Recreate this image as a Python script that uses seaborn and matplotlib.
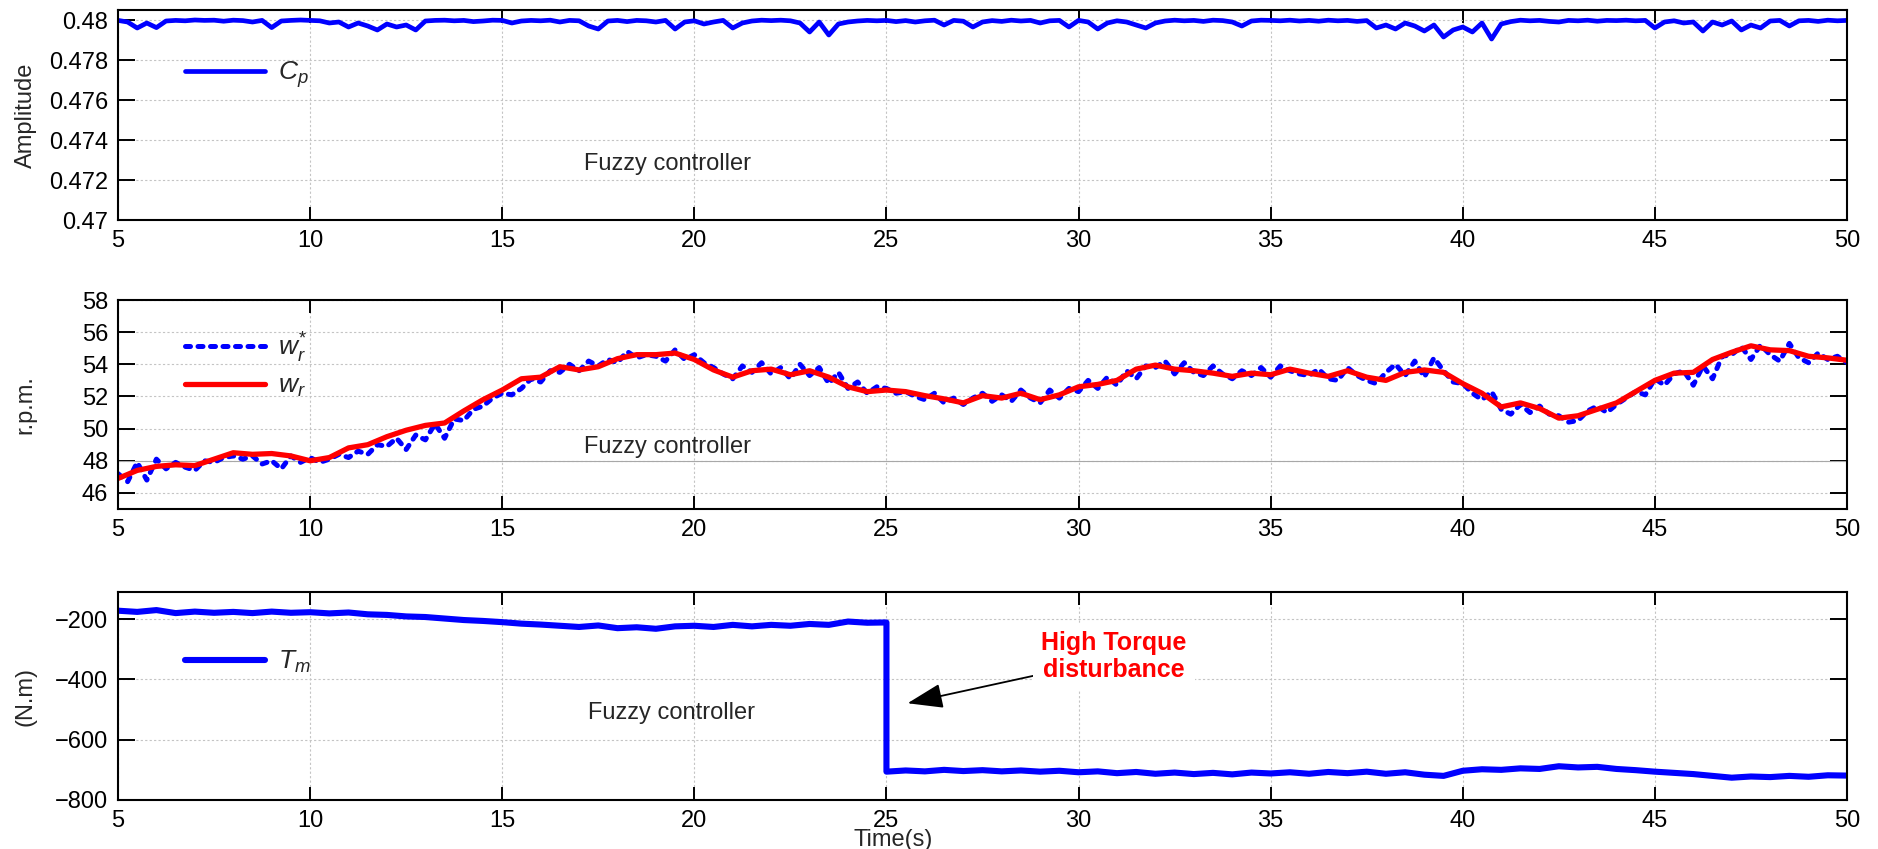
import numpy as np
import pandas as pd
import matplotlib
matplotlib.use("Agg")
import matplotlib.pyplot as plt
import seaborn as sns

# ---------------- data ----------------
T_START, T_END = 5, 50

# Power coefficient Cp, every 0.25 s
cp_vals = [
    0.47998, 0.47990, 0.47960, 0.47985, 0.47962, 0.47995, 0.47998, 0.47996,
    0.48000, 0.47998, 0.47999, 0.47994, 0.47999, 0.47997, 0.47990, 0.47998,
    0.47962, 0.47995, 0.47998, 0.48000, 0.47998, 0.47996, 0.47985, 0.47990,
    0.47965, 0.47985, 0.47970, 0.47950, 0.47980, 0.47965, 0.47975, 0.47950,
    0.47995, 0.47998, 0.47999, 0.47996, 0.47998, 0.47992, 0.47995, 0.47999,
    0.47998, 0.47985, 0.47995, 0.47998, 0.47996, 0.47999, 0.47990, 0.47998,
    0.47996, 0.47970, 0.47955, 0.47995, 0.47998, 0.47992, 0.47998, 0.47996,
    0.47990, 0.47998, 0.47955, 0.47990, 0.47996, 0.47980, 0.47990, 0.47998,
    0.47960, 0.47985, 0.47995, 0.47999, 0.47997, 0.47999, 0.47996, 0.47985,
    0.47940, 0.47990, 0.47925, 0.47980, 0.47990, 0.47995, 0.47998, 0.47996,
    0.47998, 0.47992, 0.47997, 0.47990, 0.47996, 0.47999, 0.47975, 0.47998,
    0.47994, 0.47965, 0.47990, 0.47997, 0.47993, 0.47999, 0.47995, 0.47998,
    0.47985, 0.47996, 0.47998, 0.47965, 0.47998, 0.47990, 0.47955, 0.47985,
    0.47996, 0.47990, 0.47975, 0.47960, 0.47985, 0.47995, 0.47999, 0.47996,
    0.47998, 0.47993, 0.47999, 0.47997, 0.47990, 0.47970, 0.47995, 0.47999,
    0.47998, 0.47996, 0.47999, 0.47995, 0.47998, 0.47994, 0.47999, 0.47996,
    0.47998, 0.47993, 0.47997, 0.47960, 0.47975, 0.47955, 0.47985, 0.47970,
    0.47945, 0.47975, 0.47915, 0.47950, 0.47965, 0.47940, 0.47985, 0.47905,
    0.47980, 0.47992, 0.47999, 0.47996, 0.47998, 0.47993, 0.47990, 0.47998,
    0.47996, 0.47999, 0.47994, 0.47998, 0.47997, 0.47999, 0.47996, 0.47998,
    0.47960, 0.47990, 0.47996, 0.47985, 0.47990, 0.47945, 0.47990, 0.47975,
    0.47995, 0.47950, 0.47975, 0.47960, 0.47995, 0.47998, 0.47970, 0.47996,
    0.47998, 0.47993, 0.47999, 0.47996, 0.47998,
]

# Reference speed w*_r, every 0.25 s
w_ref = [
    47.2, 46.7, 47.9, 46.8, 48.1, 47.5, 47.9, 47.6,
    47.4, 48.0, 47.9, 48.2, 48.3, 48.1, 48.3, 47.8,
    48.0, 47.5, 48.3, 47.9, 48.2, 47.9, 48.1, 48.4,
    48.2, 48.6, 48.4, 49.0, 48.9, 49.4, 48.7, 49.6,
    49.3, 50.3, 49.4, 50.6, 50.5, 51.2, 51.4, 51.9,
    52.2, 52.1, 52.5, 53.1, 52.9, 53.6, 53.5, 54.0,
    53.6, 54.2, 53.9, 54.3, 54.1, 54.8, 54.4, 54.6,
    54.5, 54.2, 54.9, 54.3, 54.6, 54.1, 53.8, 53.4,
    53.1, 53.9, 53.5, 54.1, 53.4, 53.8, 53.1, 54.0,
    53.3, 53.8, 52.8, 53.5, 52.5, 52.9, 52.2, 52.6,
    52.5, 52.2, 52.3, 52.0, 51.8, 52.2, 51.6, 51.9,
    51.5, 51.9, 52.2, 51.7, 52.1, 51.7, 52.4, 51.9,
    51.6, 52.4, 51.9, 52.5, 52.3, 53.0, 52.5, 53.2,
    52.7, 53.6, 53.1, 53.9, 53.8, 54.2, 53.4, 54.1,
    53.5, 53.3, 53.9, 53.4, 53.1, 53.6, 53.3, 53.8,
    53.2, 53.9, 53.6, 53.4, 53.3, 53.7, 53.1, 53.0,
    53.8, 53.3, 53.0, 52.8, 53.5, 54.0, 53.3, 54.2,
    53.2, 54.4, 53.6, 52.9, 52.8, 52.2, 51.8, 52.3,
    51.2, 50.9, 51.5, 51.0, 51.4, 50.9, 50.8, 50.4,
    50.5, 51.1, 51.4, 51.0, 51.5, 51.9, 52.3, 52.1,
    53.1, 52.7, 53.4, 53.6, 52.7, 53.9, 53.1, 54.5,
    54.6, 55.1, 54.3, 55.2, 54.6, 54.2, 55.3, 54.4,
    54.1, 54.7, 54.3, 54.5, 54.1,
]

# Rotor speed w_r, every 0.5 s
w_rot = [
    46.9, 47.4, 47.65, 47.75, 47.7, 48.1, 48.5, 48.4, 48.45, 48.3,
    48.0, 48.2, 48.8, 49.0, 49.5, 49.9, 50.2, 50.35, 51.1, 51.8,
    52.4, 53.1, 53.2, 53.85, 53.65, 53.85, 54.35, 54.6, 54.6, 54.7,
    54.3, 53.65, 53.2, 53.6, 53.7, 53.35, 53.6, 53.2, 52.6, 52.3,
    52.4, 52.3, 52.05, 51.85, 51.6, 52.05, 51.9, 52.2, 51.8, 52.1,
    52.6, 52.75, 53.0, 53.7, 53.95, 53.7, 53.6, 53.45, 53.25, 53.45,
    53.35, 53.7, 53.45, 53.25, 53.6, 53.2, 53.0, 53.5, 53.65, 53.5,
    52.8, 52.2, 51.35, 51.6, 51.25, 50.65, 50.8, 51.2, 51.6, 52.3,
    53.0, 53.45, 53.5, 54.3, 54.75, 55.15, 54.9, 54.85, 54.5, 54.4,
    54.25,
]

# Mechanical torque, every 0.5 s: before the disturbance (5..25 s) and after (25..50 s)
tm_before = [
    -172, -176, -170, -180, -175, -179, -176, -180, -175, -179,
    -177, -181, -178, -184, -186, -191, -193, -198, -203, -206,
    -210, -215, -218, -222, -226, -221, -230, -227, -232, -224,
    -222, -226, -219, -224, -219, -222, -216, -219, -208, -212,
    -211,
]
tm_after = [
    -706, -702, -705, -700, -704, -701, -705, -702, -706, -703,
    -708, -705, -711, -707, -713, -709, -714, -710, -715, -709,
    -712, -708, -713, -707, -711, -706, -713, -708, -716, -720,
    -703, -698, -700, -695, -697, -688, -692, -690, -697, -701,
    -706, -710, -714, -720, -726, -722, -724, -720, -723, -718,
    -719,
]
T_STEP = 25

x_ticks = [5, 10, 15, 20, 25, 30, 35, 40, 45, 50]
cp_ticks = [0.47, 0.472, 0.474, 0.476, 0.478, 0.48]
cp_ticklabels = ["0.47", "0.472", "0.474", "0.476", "0.478", "0.48"]
w_ticks = [46, 48, 50, 52, 54, 56, 58]
tm_ticks = [-800, -600, -400, -200]

# ---------------- build frames ----------------
t_q = np.linspace(T_START, T_END, len(cp_vals))
t_h = np.linspace(T_START, T_END, len(w_rot))
df_cp = pd.DataFrame({"t": t_q, "v": cp_vals})
df_wref = pd.DataFrame({"t": np.linspace(T_START, T_END, len(w_ref)), "v": w_ref})
df_wrot = pd.DataFrame({"t": t_h, "v": w_rot})
df_tm = pd.DataFrame({
    "t": np.concatenate([np.linspace(T_START, T_STEP, len(tm_before)),
                         np.linspace(T_STEP, T_END, len(tm_after))]),
    "v": tm_before + tm_after,
})

# ---------------- style ----------------
sns.set_style("ticks")
plt.rcParams["font.family"] = ["Liberation Sans", "DejaVu Sans"]
plt.rcParams["mathtext.fontset"] = "custom"
plt.rcParams["mathtext.it"] = "Liberation Sans:italic"
plt.rcParams["mathtext.rm"] = "Liberation Sans"

BLUE = "#0000ff"
RED = "#ff0000"
FS = 17

fig = plt.figure(figsize=(18.78, 8.49), dpi=100)
L, W = 118 / 1878, 1729 / 1878
ax1 = fig.add_axes([L, 1 - 220 / 849, W, 210 / 849])
ax2 = fig.add_axes([L, 1 - 509 / 849, W, 209 / 849])
ax3 = fig.add_axes([L, 1 - 800 / 849, W, 208 / 849])


def style(ax, ylim, yticks, ylabel, yticklabels=None):
    ax.set_xlim(T_START, T_END)
    ax.set_xticks(x_ticks)
    ax.set_ylim(*ylim)
    ax.set_yticks(yticks)
    if yticklabels is not None:
        ax.set_yticklabels(yticklabels)
    ax.set_axisbelow(True)
    ax.grid(True, color="#c4c4c4", linestyle=(0, (2, 2)), linewidth=0.8)
    ax.tick_params(direction="in", top=True, right=True, width=1.4,
                   labelsize=FS, pad=7, colors="black")
    ax.tick_params(axis="y", length=12)
    ax.tick_params(axis="x", length=9.5)
    for s in ax.spines.values():
        s.set_linewidth(1.5)
        s.set_color("black")
    ax.set_xlabel("")
    ax.set_ylabel(ylabel, fontsize=FS)
    ax.yaxis.set_label_coords(-0.047, 0.5)


# --- panel 1 : Cp ---
sns.lineplot(data=df_cp, x="t", y="v", ax=ax1, color=BLUE, lw=3.4,
             estimator=None, sort=False, label="$C_p$")
style(ax1, (0.47, 0.4805), cp_ticks, "Amplitude", cp_ticklabels)
ax1.legend(loc="center left", bbox_to_anchor=(0.039, 0.69), frameon=False,
           fontsize=19, handlelength=3.0, handletextpad=0.5,
           borderpad=0, borderaxespad=0)
ax1.text(19.3, 0.4728, "Fuzzy controller", fontsize=FS, ha="center", va="center")

# --- panel 2 : speeds ---
ax2.axhline(48, color="#a8a8a8", lw=0.8, zorder=1)
sns.lineplot(data=df_wref, x="t", y="v", ax=ax2, color=BLUE, lw=3.6,
             estimator=None, sort=False, label="$w^{*}_{r}$")
ln = ax2.lines[-1]
ln.set_linestyle((0, (1.0, 1.5)))
ln.set_dash_capstyle("round")
sns.lineplot(data=df_wrot, x="t", y="v", ax=ax2, color=RED, lw=3.8,
             estimator=None, sort=False, label="$w_r$")
style(ax2, (45, 58), w_ticks, "r.p.m.")
ax2.legend(loc="center left", bbox_to_anchor=(0.039, 0.69), frameon=False,
           fontsize=19, handlelength=3.0, handletextpad=0.5,
           borderpad=0, borderaxespad=0, labelspacing=0.35)
ax2.text(19.3, 48.85, "Fuzzy controller", fontsize=FS, ha="center", va="center")

# --- panel 3 : torque ---
sns.lineplot(data=df_tm, x="t", y="v", ax=ax3, color=BLUE, lw=4.4,
             estimator=None, sort=False, label="$T_m$")
style(ax3, (-800, -110), tm_ticks, "(N.m)")
ax3.legend(loc="center left", bbox_to_anchor=(0.039, 0.663), frameon=False,
           fontsize=19, handlelength=3.0, handletextpad=0.5,
           borderpad=0, borderaxespad=0)
ax3.text(19.4, -511, "Fuzzy controller", fontsize=FS, ha="center", va="center")
ax3.text(30.92, -325, "High Torque\ndisturbance", color="red", fontweight="bold",
         fontsize=18, ha="center", va="center", linespacing=1.15,
         bbox=dict(facecolor="white", edgecolor="none", pad=6), zorder=5)
ax3.annotate("", xy=(25.48, -481), xytext=(29.15, -379),
             arrowprops=dict(arrowstyle="-|>,head_length=1.0,head_width=0.35",
                             color="black", lw=1.3, mutation_scale=22))

fig.text(893 / 1878, 1 - 840 / 849, "Time(s)", ha="center", va="center", fontsize=FS)

fig.savefig("out.png", dpi=100)
